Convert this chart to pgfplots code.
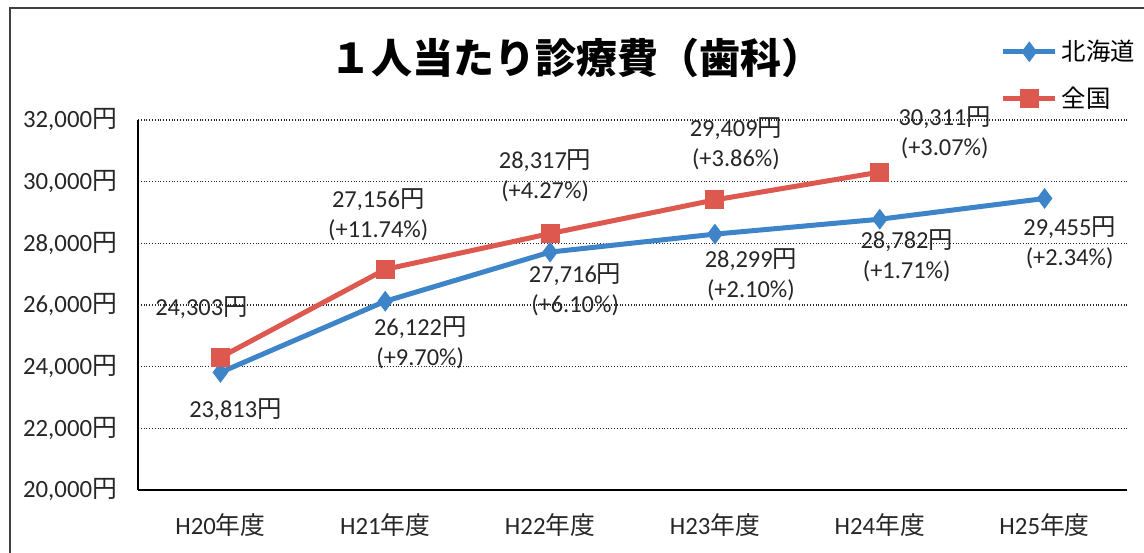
\documentclass[border=0pt]{standalone}
\usepackage{pgfplots}
\pgfplotsset{compat=1.18}
\usepackage{pgfplotstable}
\usepackage{fontspec}
\setmainfont{Carlito}
\newfontfamily\jp{Noto Sans CJK JP}
\newcommand\yen{{\jp 円}}
\definecolor{hblue}{RGB}{62,132,200}
\definecolor{zred}{RGB}{221,88,78}

\pgfplotstableread{
x y pct dx dy
0 23813 -1 7.5 -18.5
1 26122 9.70 17.5 -21
2 27716 6.10 12.5 -19
3 28299 2.10 18 -20.5
4 28782 1.71 13.5 -18.5
5 29455 2.34 12.5 -22
}\hokkaido

\pgfplotstableread{
x y pct dx dy
0 24303 -1 -9.5 25
1 27156 11.74 -3.5 27.5
2 28317 4.27 -2.5 29
3 29409 3.86 10.5 28
4 30311 3.07 32.5 19.5
}\zenkoku

\def\myDX{0}\def\myDY{0}\def\myPct{-1}
\newcommand\pctpart{\ifdim\myPct pt<0pt\else\\(+\pgfmathprintnumber[fixed,fixed zerofill,precision=2]{\myPct}\%)\fi}

\pgfplotsset{
  lbl/.style={
    visualization depends on={\thisrow{dx}\as\myDX},
    visualization depends on={\thisrow{dy}\as\myDY},
    visualization depends on={\thisrow{pct}\as\myPct},
    point meta=y,
    nodes near coords={\pgfmathprintnumber[fixed,precision=0,1000 sep={,}]{\pgfplotspointmeta}\yen\pctpart},
    nodes near coords style={anchor=center, align=center, xshift=\myDX pt, yshift=\myDY pt,
      font=\fontsize{12.2}{15}\selectfont, text=black!85, /pgf/number format/assume math mode=true},
  }
}

\begin{document}
\begin{tikzpicture}
\path[use as bounding box] (0,0) rectangle (572pt,276pt);
\draw[black!75, line width=0.8pt] (5pt,-2pt) -- (5pt,272pt) -- (574pt,272pt);
\node[font=\jp\bfseries\fontsize{20.5}{24}\selectfont] at (288pt,247pt) {１人当たり診療費（歯科）};
\begin{axis}[
  at={(69pt,31pt)}, anchor=south west,
  scale only axis, width=494.5pt, height=185pt,
  xmin=-0.5, xmax=5.5, ymin=20000, ymax=32000,
  xtick={0,1,2,3,4,5},
  xticklabels={H20{\jp 年度},H21{\jp 年度},H22{\jp 年度},H23{\jp 年度},H24{\jp 年度},H25{\jp 年度}},
  ytick={20000,22000,24000,26000,28000,30000,32000},
  scaled y ticks=false,
  yticklabel={\pgfmathprintnumber[fixed,precision=0,1000 sep={,}]{\tick}\yen},
  /pgf/number format/assume math mode=true,
  ticklabel style={font=\fontsize{12.4}{14}\selectfont, text=black!85},
  xticklabel style={yshift=-8pt},
  yticklabel style={xshift=-7pt},
  major tick length=0pt,
  axis x line*=bottom, axis y line*=left,
  axis line style={-, black, line width=0.8pt},
  ymajorgrids,
  grid style={black!85, densely dotted, line width=0.8pt},
  clip=false,
  legend style={at={(rel axis cs:0.872,1.228)}, anchor=north west, draw=none, fill=none,
    font=\jp\fontsize{12.2}{14}\selectfont, row sep=7.5pt, inner sep=0pt},
  legend cell align=left,
  legend image code/.code={\draw[mark repeat=2,mark phase=2] plot coordinates {(0pt,0pt) (13pt,0pt) (26pt,0pt)};},
]
\addplot[hblue, line width=2.5pt, mark=diamond*, mark size=4.8pt, mark options={solid, line width=0.5pt}, lbl] table[x=x,y=y] {\hokkaido};
\addlegendentry{北海道}
\addplot[zred, line width=2.5pt, mark=square*, mark size=4.5pt, mark options={solid, line width=0.5pt}, lbl] table[x=x,y=y] {\zenkoku};
\addlegendentry{全国}
\end{axis}
\end{tikzpicture}
\end{document}
